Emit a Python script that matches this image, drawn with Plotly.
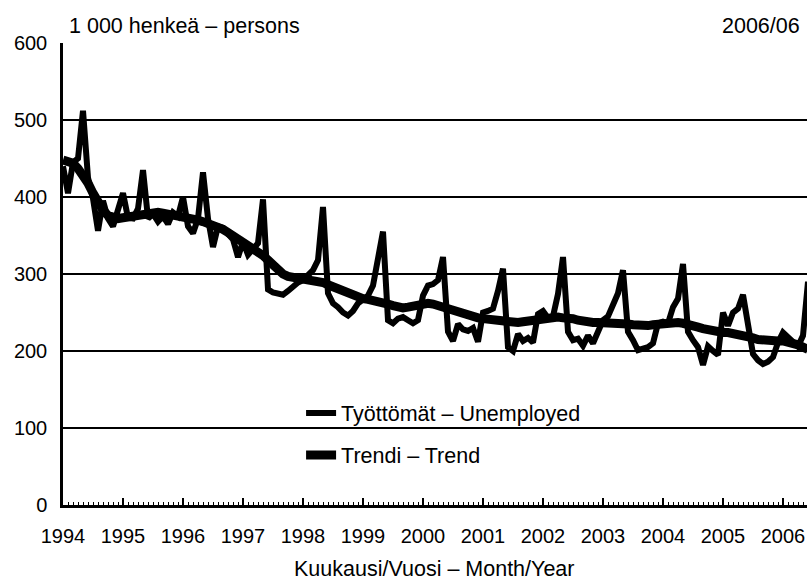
import plotly.graph_objects as go

# ---- data (thousand persons), monthly 1994/01 .. 2006/06 ----
years = list(range(1994, 2007))
year_labels = [str(y) for y in years]

unemployed = [
    440, 405, 445, 450, 512, 425, 398, 356, 395, 372, 362, 385,   # 1994
    405, 373, 372, 385, 435, 372, 378, 368, 375, 365, 380, 375,   # 1995
    400, 362, 353, 372, 432, 372, 335, 362, 360, 352, 345, 322,   # 1996
    342, 325, 334, 340, 397, 280, 276, 274, 273, 278, 284, 289,   # 1997
    292, 298, 305, 318, 387, 275, 262, 257, 250, 246, 252, 262,   # 1998
    268, 272, 285, 322, 355, 240, 236, 242, 244, 240, 236, 240,   # 1999
    272, 285, 287, 292, 322, 225, 213, 235, 228, 226, 230, 212,   # 2000
    250, 252, 255, 278, 307, 205, 200, 222, 213, 217, 211, 248,   # 2001
    252, 243, 245, 274, 322, 225, 214, 216, 207, 220, 210, 225,   # 2002
    240, 245, 258, 275, 305, 225, 214, 201, 203, 205, 210, 236,   # 2003
    238, 236, 257, 268, 313, 225, 214, 205, 182, 206, 200, 195,   # 2004
    250, 233, 250, 255, 273, 238, 196, 188, 183, 186, 192, 211,   # 2005
    224, 218, 213, 206, 220, 290,                                 # 2006
]

trend = [
    448, 447, 444, 437, 428, 418, 405, 393, 383, 376, 373, 372,   # 1994
    373, 374, 376, 378, 379, 380, 380, 380, 379, 378, 377, 376,   # 1995
    375, 374, 372, 370, 368, 366, 364, 361, 358, 354, 350, 346,   # 1996
    342, 338, 334, 329, 324, 318, 311, 305, 300, 297, 296, 295,   # 1997
    294, 293, 292, 291, 289, 286, 283, 280, 277, 274, 272, 270,   # 1998
    268, 267, 266, 265, 263, 261, 259, 257, 256, 257, 259, 261,   # 1999
    262, 262, 261, 259, 256, 253, 250, 248, 246, 245, 244, 243,   # 2000
    242, 241, 240, 239, 238, 237, 237, 237, 238, 239, 240, 242,   # 2001
    243, 244, 244, 244, 243, 243, 242, 240, 238, 237, 237, 237,   # 2002
    237, 237, 237, 236, 236, 235, 234, 233, 233, 233, 234, 235,   # 2003
    235, 236, 237, 237, 236, 235, 233, 231, 229, 227, 226, 225,   # 2004
    224, 224, 223, 222, 221, 219, 217, 215, 214, 213, 213, 213,   # 2005
    213, 212, 210, 208, 205, 202,                                 # 2006
]

n = len(unemployed)
months_x = [1994 + i / 12 for i in range(n)]

FONT = "Liberation Sans, Arial, Helvetica, sans-serif"

fig = go.Figure()
fig.add_trace(go.Scatter(
    x=months_x, y=unemployed, mode="lines", name="Työttömät – Unemployed",
    line=dict(color="black", width=6), legend="legend",
))
fig.add_trace(go.Scatter(
    x=months_x, y=trend, mode="lines", name="Trendi – Trend",
    line=dict(color="black", width=9), legend="legend2",
))

fig.update_layout(
    width=807, height=584,
    paper_bgcolor="white", plot_bgcolor="white",
    margin=dict(l=63, r=0, t=43, b=79),
    font=dict(family=FONT, color="black", size=20),
    showlegend=True,
    legend=dict(x=0.32, y=0.199, xanchor="left", yanchor="middle",
                bgcolor="rgba(0,0,0,0)", font=dict(size=21.5), itemwidth=30),
    legend2=dict(x=0.32, y=0.108, xanchor="left", yanchor="middle",
                 bgcolor="rgba(0,0,0,0)", font=dict(size=21.5), itemwidth=30),
    xaxis=dict(
        range=[1994, 2006.4], tickmode="array", tickvals=years, ticktext=year_labels,
        ticks="inside", ticklen=7, tickwidth=1.5, tickcolor="black",
        minor=dict(tickmode="linear", tick0=1994, dtick=1 / 12, ticks="inside",
                   ticklen=3, tickwidth=1, tickcolor="black", showgrid=False),
        showline=True, linecolor="black", linewidth=2.5,
        showgrid=False, zeroline=False, ticklabelstandoff=11,
        tickfont=dict(size=20),
    ),
    yaxis=dict(
        range=[0, 600], tickmode="array", tickvals=[0, 100, 200, 300, 400, 500, 600],
        ticktext=["0", "100", "200", "300", "400", "500", "600"],
        ticks="", showline=True, linecolor="black", linewidth=2.5,
        showgrid=True, gridcolor="black", gridwidth=2, zeroline=False,
        ticklabelstandoff=9, tickfont=dict(size=20),
    ),
    annotations=[
        dict(text="1 000 henkeä – persons", xref="paper", yref="paper",
             x=0.005, y=1.037, xanchor="left", yanchor="middle",
             showarrow=False, font=dict(size=21.5)),
        dict(text="2006/06", xref="paper", yref="paper",
             x=0.993, y=1.037, xanchor="right", yanchor="middle",
             showarrow=False, font=dict(size=21.5)),
        dict(text="Kuukausi/Vuosi – Month/Year", xref="paper", yref="paper",
             x=0.4987, y=-0.1385, xanchor="center", yanchor="middle",
             showarrow=False, font=dict(size=21.5)),
    ],
)

fig.write_html("out.html", config={"displayModeBar": False},
               post_script="document.body.style.margin='0';")
